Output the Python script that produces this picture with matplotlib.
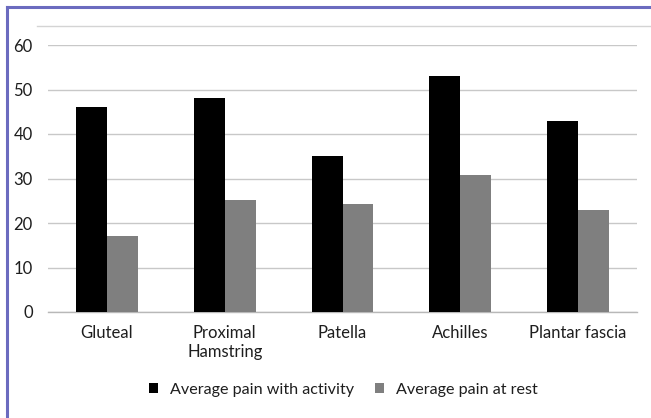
import matplotlib
matplotlib.use("Agg")
import matplotlib.pyplot as plt
from matplotlib.patches import Patch
from matplotlib.lines import Line2D
import numpy as np

categories = ["Gluteal", "Proximal\nHamstring", "Patella", "Achilles", "Plantar fascia"]
activity = [46, 48, 35, 53, 43]
rest = [17, 25.2, 24.3, 30.7, 23]
series_names = ["Average pain with activity", "Average pain at rest"]
yticks = [0, 10, 20, 30, 40, 50, 60]

plt.rcParams['font.family'] = ['Lato', 'DejaVu Sans']
text_color = "#1e1e1e"

fig = plt.figure(figsize=(6.51, 4.18), dpi=100)
fig.patch.set_facecolor("white")
ax = fig.add_axes([48/651, 1-312/418, (637-48)/651, (312-45)/418])

x = np.arange(len(categories))
w = 0.263
ax.bar(x - w/2, activity, w, color="#000000", label=series_names[0], zorder=3)
ax.bar(x + w/2, rest, w, color="#7f7f7f", label=series_names[1], zorder=3)

ax.set_xlim(-0.5, len(categories) - 0.5)
ax.set_ylim(0, 60)
ax.set_yticks(yticks)
ax.set_yticklabels([str(t) for t in yticks], fontsize=12, color=text_color)
ax.set_xticks(x)
ax.set_xticklabels(categories, fontsize=12, color=text_color, linespacing=1.3)
ax.tick_params(axis='both', length=0)
ax.tick_params(axis='y', pad=11)
ax.tick_params(axis='x', pad=9)
ax.grid(axis='y', color="#c8c8c8", linewidth=1.0, zorder=0)
for s in ["top", "right", "left"]:
    ax.spines[s].set_visible(False)
ax.spines["bottom"].set_color("#b8b8b8")
ax.spines["bottom"].set_linewidth(1.0)

handles = [Patch(facecolor="#000000"), Patch(facecolor="#7f7f7f")]
leg = fig.legend(handles, series_names, loc="center", bbox_to_anchor=(343/651, 1-390/418),
                 ncol=2, frameon=False, fontsize=11.6, handlelength=0.55, handleheight=0.55,
                 handletextpad=0.75, columnspacing=1.3, labelcolor=text_color)

# frame decorations
border = "#6b6bbf"
fig.add_artist(Line2D([7/651, 1], [1-7/418, 1-7/418], color=border, linewidth=2.2, transform=fig.transFigure))
fig.add_artist(Line2D([7/651, 7/651], [0, 1-7/418], color=border, linewidth=2.2, transform=fig.transFigure))
fig.add_artist(Line2D([37/651, 1], [1-26/418, 1-26/418], color="#d4d4d4", linewidth=1.0, transform=fig.transFigure))

fig.savefig("out.png", dpi=100, facecolor="white")
